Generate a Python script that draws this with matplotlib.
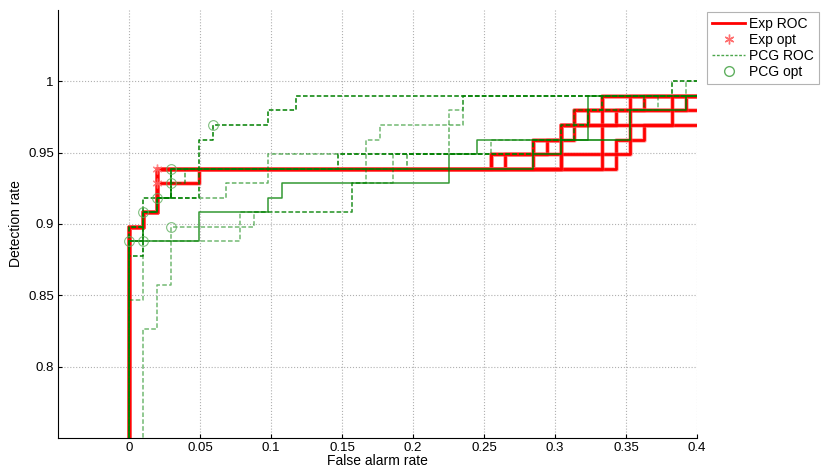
import matplotlib
matplotlib.use('Agg')
from matplotlib import pyplot as plt
from matplotlib.lines import Line2D

plt.rcParams['font.family'] = ['Liberation Sans', 'DejaVu Sans']

# counts of negatives / positives used to turn step indices into rates
N_NEG = 102
N_POS = 98

# each ROC: list of (false alarm count, misses) at which the curve steps up
exp_rocs = [
    [(0, 10), (1, 9), (2, 6), (26, 5), (29, 4), (31, 3), (32, 2), (34, 1)],
    [(0, 10), (1, 9), (2, 7), (5, 6), (27, 5), (30, 4), (32, 3), (35, 2), (37, 1)],
    [(0, 10), (1, 9), (2, 6), (29, 4), (31, 3), (33, 2)],
    [(0, 10), (1, 9), (2, 6), (31, 3), (32, 2), (40, 1)],
    [(0, 10), (1, 9), (2, 6), (35, 4), (37, 3)],
    [(0, 10), (1, 9), (2, 6), (26, 5), (36, 1)],
    [(0, 10), (1, 9), (2, 6), (34, 1)],
    [(0, 10), (1, 9), (2, 6), (31, 3), (39, 1)],
]
exp_opt = [(2, 6), (2, 7)]

pcg_rocs = [
    [(0, 12), (1, 8), (5, 4), (6, 3), (10, 2), (12, 1), (39, 0)],
    [(1, 17), (2, 14), (3, 10), (8, 9), (16, 7), (17, 4), (18, 3), (23, 2), (24, 1), (40, 0)],
    [(0, 15), (1, 11), (8, 10), (9, 9), (16, 7), (19, 5), (26, 4), (32, 3), (33, 2), (38, 1)],
    [(0, 11), (5, 9), (10, 8), (11, 7), (23, 5), (25, 4), (33, 1)],
    [(0, 11), (1, 9), (2, 8), (3, 6), (29, 5), (31, 4), (36, 2), (40, 1)],
    [(0, 10), (1, 9), (2, 8), (7, 7), (10, 5), (23, 3), (24, 1)],
    [(0, 10), (1, 9), (2, 8), (3, 6), (15, 5), (29, 4), (31, 3), (33, 2), (34, 1)],
    [(0, 10), (1, 9), (2, 8), (3, 7), (4, 6), (20, 5), (29, 4), (32, 2), (37, 1)],
]
pcg_style = ['--', '--', '--', '-', '-', '--', '--', '--']
pcg_alpha = [1.0, 0.55, 0.55, 0.8, 1.0, 0.6, 1.0, 0.7]
pcg_opt = [(6, 3), (3, 10), (1, 11), (0, 11), (1, 9), (2, 8), (3, 6), (3, 7)]


def to_step(steps):
    xs = [steps[0][0] / N_NEG]
    ys = [0.0]
    for fa, miss in steps:
        xs.append(fa / N_NEG)
        ys.append(1 - miss / N_POS)
    xs.append(0.45)
    ys.append(ys[-1])
    return xs, ys


fig = plt.figure(figsize=(8.27, 4.71), dpi=100)
ax = fig.add_axes([0.0701, 0.0701, 0.7727, 0.9087])

green = (0, 0.5, 0)
for steps, ls, al in zip(pcg_rocs, pcg_style, pcg_alpha):
    x, y = to_step(steps)
    ax.step(x, y, where='post', color=green, ls=ls, lw=1.1, alpha=al,
            dashes=(3, 1.5) if ls == '--' else (None, None), zorder=3)

for steps in exp_rocs:
    x, y = to_step(steps)
    ax.step(x, y, where='post', color='#ff5050', lw=3.4, alpha=0.45, zorder=2)
    ax.step(x, y, where='post', color='red', lw=2.0, zorder=2)

ax.plot([p[0] / N_NEG for p in exp_opt], [1 - p[1] / N_POS for p in exp_opt],
        ls='none', marker=(6, 2, 0), ms=7, color='#ff7070', mew=1.0,
        alpha=0.8, zorder=4)
ax.plot([p[0] / N_NEG for p in pcg_opt], [1 - p[1] / N_POS for p in pcg_opt],
        ls='none', marker='o', ms=7, mfc='none', mec='#60b060', mew=0.8,
        alpha=0.8, zorder=4)

ax.set_xlim(-0.05, 0.4)
ax.set_ylim(0.75, 1.05)
ax.set_xticks([0, 0.05, 0.1, 0.15, 0.2, 0.25, 0.3, 0.35, 0.4])
ax.set_xticklabels(['0', '0.05', '0.1', '0.15', '0.2', '0.25', '0.3', '0.35', '0.4'])
ax.set_yticks([0.8, 0.85, 0.9, 0.95, 1.0])
ax.set_yticklabels(['0.8', '0.85', '0.9', '0.95', '1'])
ax.tick_params(direction='in', length=3, labelsize=9.5, pad=3)
ax.grid(True, ls=':', color='#b0b0b0', lw=0.8)
ax.spines['top'].set_visible(False)
ax.spines['right'].set_visible(False)
ax.set_xlabel('False alarm rate', fontsize=10, labelpad=0)
ax.set_ylabel('Detection rate', fontsize=10, labelpad=4)

handles = [
    Line2D([], [], color='red', lw=2.0),
    Line2D([], [], ls='none', marker=(6, 2, 0), ms=7, color='#ff7070'),
    Line2D([], [], color=green, ls='--', lw=1, dashes=(2, 1.2), alpha=0.7),
    Line2D([], [], ls='none', marker='o', ms=7, mfc='none', mec='#60b060'),
]
leg = fig.legend(handles, ['Exp ROC', 'Exp opt', 'PCG ROC', 'PCG opt'],
                 loc='upper left', bbox_to_anchor=(0.855, 0.975), fontsize=10,
                 frameon=True, fancybox=False, handlelength=2.4,
                 borderpad=0.35, labelspacing=0.15, handletextpad=0.3,
                 borderaxespad=0)
leg.get_frame().set_edgecolor('#a0a0a0')
leg.get_frame().set_linewidth(0.8)

fig.savefig('out.png', dpi=100)
